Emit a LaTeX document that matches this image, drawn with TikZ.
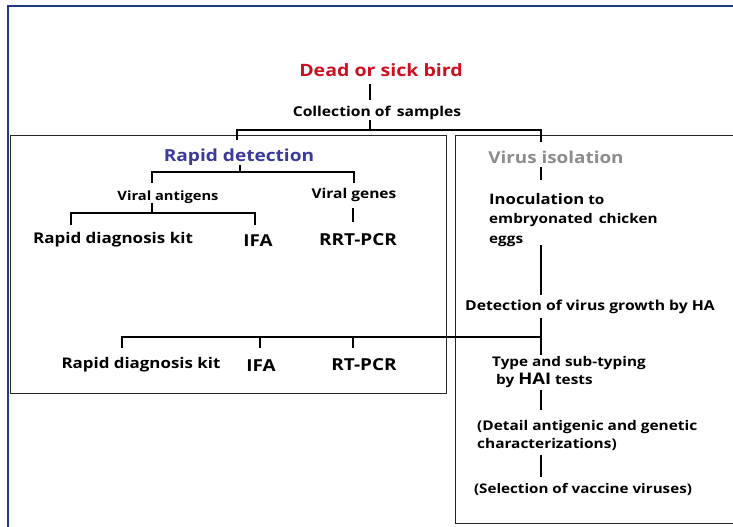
\documentclass[tikz,border=0pt]{standalone}
\usepackage{fontspec}
\setmainfont{Open Sans}[FakeStretch=1.15]
\usetikzlibrary{positioning,calc}
\definecolor{framenavy}{HTML}{1F3A85}
\definecolor{birdred}{HTML}{CC1020}
\definecolor{rapidblue}{HTML}{3A3A9C}
\definecolor{isogray}{HTML}{8C8C8C}

\tikzset{
  lbl/.style={font=\bfseries, inner sep=0pt, align=center},
  conn/.style={line width=2.5pt},
  panel/.style={draw=black!85, line width=0.8pt},
}

\begin{document}
\begin{tikzpicture}[x=1pt,y=-1pt]
  \useasboundingbox (0,0) rectangle (733,527);
  % outer frame
  \draw[framenavy,line width=2pt] (8,527) -- (8,6) -- (733,6);
  % panels
  \draw[panel] (10,135.5) rectangle (446,393);
  \draw[panel] (734,523) -- (455.5,523) -- (455.5,135.5) -- (734,135.5);

  % top of the tree
  \node[lbl,text=birdred,font=\fontsize{17}{20}\bfseries] (dead) at (381,70) {Dead or sick bird};
  \node[lbl,font=\fontsize{13.6}{16}\bfseries] (coll) at (377,113) {Collection of\, samples};
  \coordinate (hubtop) at (370,130);
  \coordinate (legrapid) at (237,130);
  \coordinate (legvirus) at (541,130);
  \draw[conn] (370,84) -- (370,100);
  \draw[conn] (370,120) -- (hubtop);
  \draw[conn] ($(legrapid)+(0,10)$) -- (legrapid) -- (legvirus) -- ($(legvirus)+(0,12)$);

  % rapid detection
  \node[lbl,text=rapidblue,font=\fontsize{16.6}{19}\bfseries] (rapid) at (239,157) {Rapid detection};
  \node[lbl,font=\fontsize{12.8}{15}\bfseries] (vant) at (168,197) {Viral antigens};
  \node[lbl,font=\fontsize{13.5}{15}\bfseries] (vgen) at (354,195) {Viral genes};
  \coordinate (hubrapid) at (240,172);
  \draw[conn] (240,165) -- (hubrapid);
  \draw[conn] (152,183) -- (152,172) -- (354,172) -- (354,183);
  \draw[conn] (152,203) -- (152,213);
  \draw[conn] (71,225) -- (71,213) -- (255,213) -- (255,225);
  \draw[conn] (353,208) -- (353,222);
  \node[lbl,font=\fontsize{14.8}{17}\bfseries] (kitA) at (113,240) {Rapid diagnosis kit};
  \node[lbl,font=\fontsize{16.4}{18}\bfseries] (ifaA) at (258,241) {IFA};
  \node[lbl,font=\fontsize{16.5}{18}\bfseries] (rrt) at (358,240) {RRT-PCR};

  % virus isolation
  \node[lbl,text=isogray,font=\fontsize{16.4}{19}\bfseries] (iso) at (556,157) {Virus isolation};
  \draw[conn] (541,167) -- (541,180);
  \node[lbl,align=left,anchor=west,font=\fontsize{13.3}{19.5}\bfseries] (inoc) at (489,220)
    {{\fontsize{14.5}{19.5}\selectfont Inoculation} to\\embryonated\, chicken\\eggs};
  \draw[conn] (541,245) -- (541,295);
  \node[lbl,font=\fontsize{13.7}{16}\bfseries] (detect) at (590,307) {Detection of virus growth by HA};
  \coordinate (hubhai) at (541,337);
  \draw[conn] (541,318) -- (hubhai) -- (541,355);
  \draw[conn] (122,348) -- (122,337) -- (hubhai);
  \draw[conn] (260,337) -- (260,348);
  \draw[conn] (353,337) -- (353,348);
  \node[lbl,font=\fontsize{14.7}{17}\bfseries] (kitB) at (141,365) {Rapid diagnosis kit};
  \node[lbl,font=\fontsize{16.5}{18}\bfseries] (ifaB) at (261,366) {IFA};
  \node[lbl,font=\fontsize{16.5}{18}\bfseries] (rtpcr) at (364,365) {RT-PCR};

  \node[lbl,align=left,anchor=west,font=\fontsize{13.3}{18}\bfseries] (typing) at (492,372)
    {Type and sub-typing\\\hspace{4pt}by {\fontsize{16}{18}\selectfont HAI} tests};
  \draw[conn] (541,390) -- (541,410);
  \node[lbl,align=left,anchor=west,font=\fontsize{13.4}{18}\bfseries] (detail) at (477,435)
    {(Detail antigenic and genetic\\characterizations)};
  \draw[conn] (541,455) -- (541,477);
  \node[lbl,font=\fontsize{13.2}{15}\bfseries] (select) at (583,489) {(Selection of vaccine viruses)};
\end{tikzpicture}
\end{document}
